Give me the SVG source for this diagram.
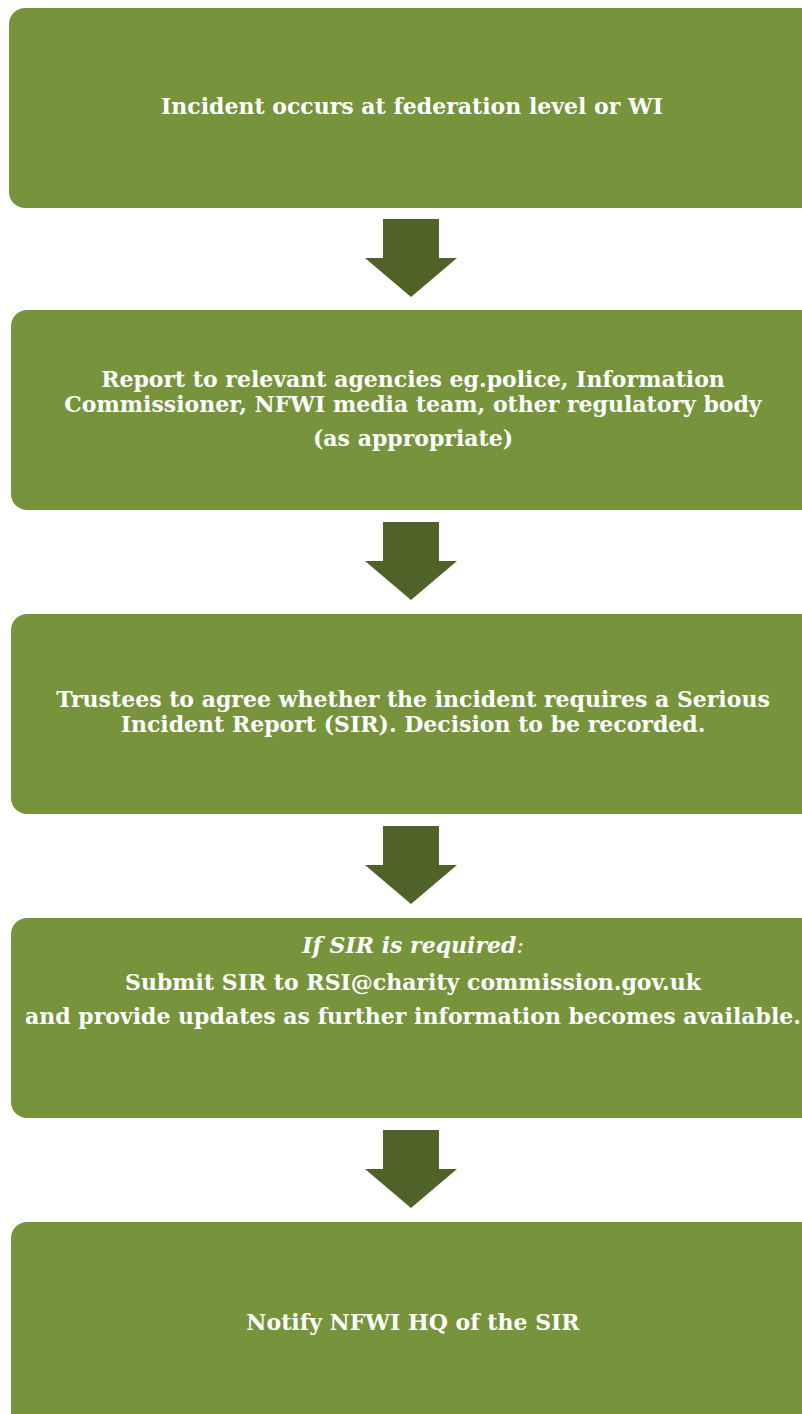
<svg xmlns="http://www.w3.org/2000/svg" width="802" height="1414" viewBox="0 0 802 1414">
<style>
.box{fill:#77933C;}
.arr{fill:#4F6228;}
text{font-family:"DejaVu Serif","Liberation Serif",serif;font-weight:bold;font-size:22px;fill:#ffffff;text-anchor:middle;}
.it{font-style:italic;}
</style>
<defs>
<path id="arrow" d="M383,0 H439 V39 H457 L411,78 L365,39 H383 Z"/>
</defs>
<g id="node1"><rect class="box" x="9" y="8" width="820" height="200" rx="16"/>
<text x="412" y="114">Incident occurs at federation level or WI</text></g>
<g id="node2"><rect class="box" x="11" y="310" width="820" height="200" rx="16"/>
<text x="413" y="387">Report to relevant agencies eg.police, Information</text>
<text x="413" y="412">Commissioner, NFWI media team, other regulatory body</text>
<text x="413" y="446">(as appropriate)</text></g>
<g id="node3"><rect class="box" x="11" y="614" width="820" height="200" rx="16"/>
<text x="413" y="707">Trustees to agree whether the incident requires a Serious</text>
<text x="413" y="732">Incident Report (SIR). Decision to be recorded.</text></g>
<g id="node4"><rect class="box" x="11" y="918" width="820" height="200" rx="16"/>
<text x="413" y="953"><tspan class="it">If SIR is required</tspan><tspan class="it" font-weight="normal">:</tspan></text>
<text x="413" y="990">Submit SIR to RSI@charity commission.gov.uk</text>
<text x="413" y="1024">and provide updates as further information becomes available.</text></g>
<g id="node5"><rect class="box" x="11" y="1222" width="820" height="220" rx="16"/>
<text x="413" y="1330">Notify NFWI HQ of the SIR</text></g>
<g id="connectors">
<use href="#arrow" class="arr" transform="translate(0,219)"/>
<use href="#arrow" class="arr" transform="translate(0,522)"/>
<use href="#arrow" class="arr" transform="translate(0,826)"/>
<use href="#arrow" class="arr" transform="translate(0,1130)"/>
</g>
</svg>
